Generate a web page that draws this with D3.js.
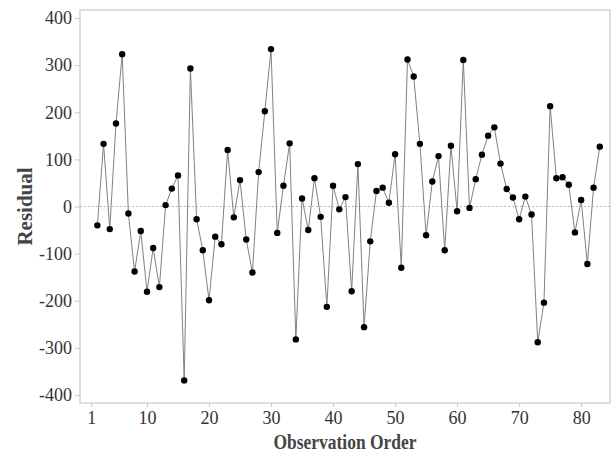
<!DOCTYPE html>
<html>
<head>
<meta charset="utf-8">
<script src="https://cdn.jsdelivr.net/npm/d3@7"></script>
<style>
  body { margin: 0; background: #fff; }
</style>
</head>
<body>
<svg id="chart" width="613" height="455"></svg>
<script>
// observation order and residuals
var obs = [2, 3, 4, 5, 6, 7, 8, 9, 10, 11, 12, 13, 14, 15, 16, 17, 18, 19, 20, 21,
           22, 23, 24, 25, 26, 27, 28, 29, 30, 31, 32, 33, 34, 35, 36, 37, 38, 39, 40, 41,
           42, 43, 44, 45, 46, 47, 48, 49, 50, 51, 52, 53, 54, 55, 56, 57, 58, 59, 60, 61,
           62, 63, 64, 65, 66, 67, 68, 69, 70, 71, 72, 73, 74, 75, 76, 77, 78, 79, 80, 81,
           82, 83]
var residual = [-40, 133, -48, 176, 323, -15, -138, -52, -181, -88, -171, 3, 38, 66, -369, 293, -27, -93, -199, -64,
                -80, 120, -23, 56, -70, -140, 73, 202, 334, -56, 44, 134, -282, 17, -50, 60, -22, -213, 44, -6,
                20, -180, 90, -256, -74, 33, 40, 8, 111, -130, 312, 276, 133, -61, 53, 107, -93, 129, -10, 311,
                -3, 58, 110, 150, 168, 91, 37, 19, -27, 21, -17, -288, -204, 213, 60, 62, 46, -55, 14, -122,
                40, 127]
var xTicks = [1, 10, 20, 30, 40, 50, 60, 70, 80]
var yTicks = [-400, -300, -200, -100, 0, 100, 200, 300, 400]

var data = obs.map(function(o, i) { return {obs: o, res: residual[i]} })

var svg = d3.select('#chart')
var serif = '"Liberation Serif", "Times New Roman", serif'
var pLeft = 80, pRight = 610, pTop = 10, pBottom = 403

var x = d3.scaleLinear().domain([-0.8, 84.65]).range([pLeft, pRight])
var y = d3.scaleLinear().domain([-417, 417]).range([pBottom, pTop])

// frame
svg.append("rect").attr("x", pLeft).attr("y", pTop).attr("width", pRight - pLeft).attr("height", pBottom - pTop)
  .style("fill", "none").style("stroke", "#d3d3d3").style("stroke-width", 1.5)

// axes
var plain = function(d) { return String(d) }
var yAxis = svg.append("g").attr("transform", "translate(" + pLeft + ",0)")
  .call(d3.axisLeft(y).tickValues(yTicks).tickFormat(plain).tickSize(5).tickPadding(3))
var xAxis = svg.append("g").attr("transform", "translate(0," + pBottom + ")")
  .call(d3.axisBottom(x).tickValues(xTicks).tickFormat(plain).tickSize(4).tickPadding(4))

;[xAxis, yAxis].forEach(function(a) {
  a.select(".domain").remove()
  a.selectAll("line").style("stroke", "#c8c8c8")
  a.selectAll("text").style("font-family", serif).style("font-size", "18px").style("fill", "#333")
})

// zero reference line
svg.append("line").attr("x1", pLeft).attr("x2", pRight).attr("y1", y(0)).attr("y2", y(0))
  .style("stroke", "#bbb").style("stroke-width", 1).style("stroke-dasharray", "2,2")

// connecting line and points
var line = d3.line().x(function(d) { return x(d.obs) }).y(function(d) { return y(d.res) })
svg.append("path").datum(data).attr("d", line)
  .style("fill", "none").style("stroke", "#808080").style("stroke-width", 1)

svg.selectAll("circle.pt").data(data).enter().append("circle").attr("class", "pt")
  .attr("cx", function(d) { return x(d.obs) }).attr("cy", function(d) { return y(d.res) })
  .attr("r", 3.2).style("fill", "#000")

// axis titles
svg.append("text").attr("x", (pLeft + pRight) / 2).attr("y", 449).attr("text-anchor", "middle")
  .attr("textLength", 143).attr("lengthAdjust", "spacingAndGlyphs")
  .style("font-family", serif).style("font-size", "20px").style("font-weight", "bold").style("fill", "#444")
  .text("Observation Order")
svg.append("text").attr("transform", "translate(32," + ((pTop + pBottom) / 2) + ") rotate(-90)")
  .attr("text-anchor", "middle")
  .style("font-family", serif).style("font-size", "21px").style("font-weight", "bold").style("fill", "#444")
  .text("Residual")
</script>
</body>
</html>
